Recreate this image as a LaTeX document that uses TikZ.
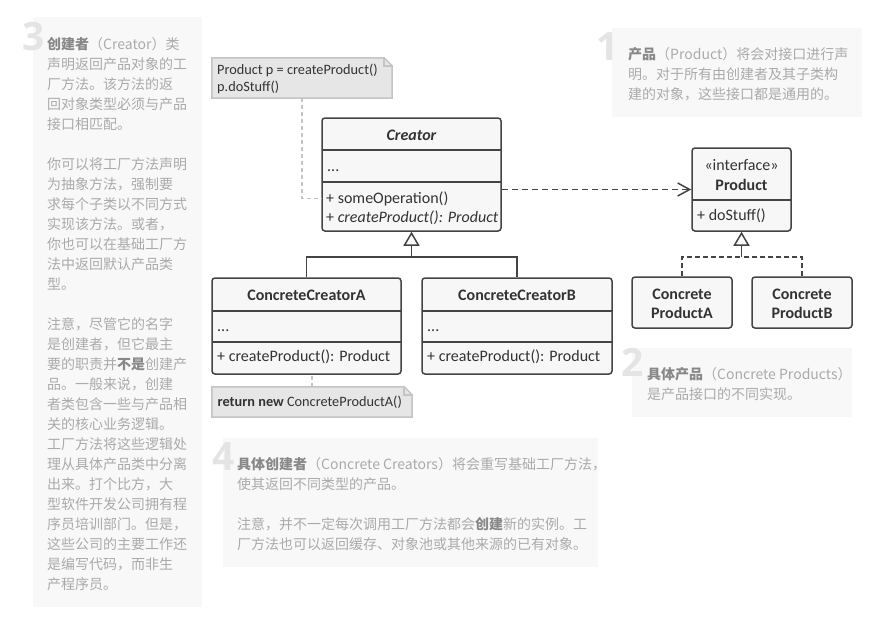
\documentclass[tikz,border=0pt]{standalone}
\usepackage{fontspec}
\setmainfont{Carlito}
\newfontfamily\cjkfont{Noto Sans CJK SC}
\newfontfamily\numfont{Open Sans}
\usetikzlibrary{arrows.meta,calc}
\definecolor{boxline}{HTML}{444444}
\definecolor{boxfill}{HTML}{F7F7F7}
\definecolor{notefill}{HTML}{E6E6E6}
\definecolor{noteline}{HTML}{C4C4C4}
\definecolor{panelbg}{HTML}{F8F8F8}
\definecolor{paneltxt}{HTML}{AAAAAA}
\definecolor{panelbold}{HTML}{888888}
\definecolor{bignum}{HTML}{E4E4E4}
\definecolor{umltxt}{HTML}{333333}
\newcommand\strongcn[1]{{\bfseries\color{panelbold}#1}}
\begin{document}
\begin{tikzpicture}[x=1pt,y=-1pt,
  umlbox/.style={draw=boxline, fill=boxfill, line width=1.5pt, rounded corners=3pt, inner sep=0pt},
  divider/.style={draw=boxline, line width=1.5pt},
  uml/.style={font=\fontsize{16}{19}\selectfont, text=umltxt, inner sep=0pt},
  notetxt/.style={font=\fontsize{14.3}{18}\selectfont, text=umltxt, inner sep=0pt, anchor=base west},
  noteanchor/.style={inner sep=0pt, draw=none},
  noteshape/.style={draw=noteline, fill=notefill, line width=1.5pt},
  panel/.style={fill=panelbg, draw=none},
  paneltext/.style={font=\cjkfont\fontsize{14}{20}\selectfont, text=paneltxt, align=left, inner sep=0pt, anchor=north west},
  bignumber/.style={font=\numfont\bfseries\fontsize{39}{39}\selectfont, text=bignum, inner sep=0pt, anchor=base east},
  conn/.style={draw=boxline, line width=1.5pt},
  inh/.style={conn, -{Triangle[open, length=14pt, width=16pt, line width=1.5pt]}},
  dep/.style={conn, dash pattern=on 6pt off 4pt, -{Straight Barb[length=12pt, width=13pt, line width=1.5pt]}},
  realdash/.style={dash pattern=on 5pt off 3pt},
  notelink/.style={draw=noteline, line width=1.5pt, dash pattern=on 4pt off 3pt}
]
\fill[white] (0,0) rectangle (884,624);
\useasboundingbox (0,0) rectangle (884,624);

% ---------- side panels ----------
\fill[panel] (33,17) rectangle (202,607);
\fill[panel] (612,28) rectangle (862,117);
\fill[panel] (632,348) rectangle (852,417);
\fill[panel] (223,438) rectangle (598,567);

\node[bignumber] (n3) at (45,50) {3};
\node[bignumber] (n1) at (619,60) {1};
\node[bignumber] (n2) at (644,376) {2};
\node[bignumber] (n4) at (235,470) {4};

\node[paneltext] (t3) at (47,37.5) {\strongcn{创建者}（Creator）类\\
声明返回产品对象的工\\
厂方法。该方法的返\\
回对象类型必须与产品\\
接口相匹配。\\[20pt]
你可以将工厂方法声明\\
为抽象方法，强制要\\
求每个子类以不同方式\\
实现该方法。或者，\\
你也可以在基础工厂方\\
法中返回默认产品类\\
型。\\[20pt]
注意，尽管它的名字\\
是创建者，但它最主\\
要的职责并\strongcn{不是}创建产\\
品。一般来说，创建\\
者类包含一些与产品相\\
关的核心业务逻辑。\\
工厂方法将这些逻辑处\\
理从具体产品类中分离\\
出来。打个比方，大\\
型软件开发公司拥有程\\
序员培训部门。但是，\\
这些公司的主要工作还\\
是编写代码，而非生\\
产程序员。};

\node[paneltext] (t1) at (628,47) {\strongcn{产品}（Product）将会对接口进行声\\
明。对于所有由创建者及其子类构\\
建的对象，这些接口都是通用的。};

\node[paneltext] (t2) at (647,367.5) {\strongcn{具体产品}（Concrete Products）\\
是产品接口的不同实现。};

\node[paneltext] (t4) at (237,457) {\strongcn{具体创建者}（Concrete Creators）将会重写基础工厂方法，\\
使其返回不同类型的产品。\\[20pt]
注意，并不一定每次调用工厂方法都会\strongcn{创建}新的实例。工\\
厂方法也可以返回缓存、对象池或其他来源的已有对象。};

% ---------- notes ----------
\node[noteanchor, minimum width=180pt, minimum height=40pt] (note1) at (302,78) {};
\draw[noteshape] (note1.south west) -- (note1.north west) -- ($(note1.north east)+(-8,0)$) -- ($(note1.north east)+(0,8)$) -- (note1.south east) -- cycle;
\draw[noteshape, fill=none] ($(note1.north east)+(-8,0)$) -- ($(note1.north east)+(-8,8)$) -- ($(note1.north east)+(0,8)$);
\node[notetxt] (note1a) at (217,74.3) {Product p = createProduct()};
\node[notetxt] (note1b) at (217,91.7) {p.doStuff()};

\node[noteanchor, minimum width=200pt, minimum height=30pt] (note2) at (312,402) {};
\draw[noteshape] (note2.south west) -- (note2.north west) -- ($(note2.north east)+(-8,0)$) -- ($(note2.north east)+(0,8)$) -- (note2.south east) -- cycle;
\draw[noteshape, fill=none] ($(note2.north east)+(-8,0)$) -- ($(note2.north east)+(-8,8)$) -- ($(note2.north east)+(0,8)$);
\node[notetxt] (note2a) at (217.5,406.7) {\textbf{return new} ConcreteProductA()};

% ---------- Creator ----------
\node[umlbox, minimum width=179pt, minimum height=113pt] (creator) at (411.5,174.5) {};
\draw[divider] (322,150) -- (501,150);
\draw[divider] (322,182) -- (501,182);
\node[uml, anchor=base] (creatorT) at (411.5,140) {\bfseries\itshape Creator};
\node[uml, anchor=base west] (creatorF) at (327,171) {...};
\node[uml, anchor=base west] (cop) at (326,203) {+ someOperation()};
\node[uml, anchor=base west] (ccp) at (326,222) {+ \textit{createProduct(): Product}};

% ---------- ConcreteCreatorA ----------
\node[umlbox, minimum width=189pt, minimum height=96pt] (cca) at (306.5,326) {};
\draw[divider] (212,311) -- (401,311);
\draw[divider] (212,342) -- (401,342);
\node[uml, anchor=base] (ccaT) at (306.5,300) {\bfseries ConcreteCreatorA};
\node[uml, anchor=base west] (ccaF) at (217,331) {...};
\node[uml, anchor=base west] (ccaM) at (217,361) {+ createProduct(): Product};

% ---------- ConcreteCreatorB ----------
\node[umlbox, minimum width=190pt, minimum height=96pt] (ccb) at (517,326) {};
\draw[divider] (422,311) -- (612,311);
\draw[divider] (422,342) -- (612,342);
\node[uml, anchor=base] (ccbT) at (517,300) {\bfseries ConcreteCreatorB};
\node[uml, anchor=base west] (ccbF) at (427,331) {...};
\node[uml, anchor=base west] (ccbM) at (427,361) {+ createProduct(): Product};

% ---------- Product ----------
\node[umlbox, minimum width=99pt, minimum height=83pt] (product) at (741.5,189.5) {};
\draw[divider] (692,200) -- (791,200);
\node[uml, anchor=base] (prodS) at (741.5,170) {«interface»};
\node[uml, anchor=base] (prodT) at (741.5,190) {\bfseries Product};
\node[uml, anchor=base west] (prodM) at (697,220) {+ doStuff()};

% ---------- Concrete products ----------
\node[umlbox, minimum width=100pt, minimum height=51pt] (cpa) at (682,302.5) {};
\node[uml, anchor=base] (cpaT1) at (682,299) {\bfseries Concrete};
\node[uml, anchor=base] (cpaT2) at (682,318) {\bfseries ProductA};
\node[umlbox, minimum width=100pt, minimum height=51pt] (cpb) at (802,302.5) {};
\node[uml, anchor=base] (cpbT1) at (802,299) {\bfseries Concrete};
\node[uml, anchor=base] (cpbT2) at (802,318) {\bfseries ProductB};

% ---------- connectors ----------
\draw[dep] (product.west -| creator.east) -- (product.west);

\coordinate (jc) at (411.5,257);
\draw[inh] (jc) -- (creator.south);
\draw[conn] (cca.north) |- (jc);
\draw[conn] (ccb.north) |- (jc);

\coordinate (jp) at (741.5,257);
\draw[inh] (jp) -- (product.south);
\draw[conn, realdash] (cpa.north) |- (jp);
\draw[conn, realdash] (cpb.north) |- (jp);

\draw[notelink] (note1.south) |- (cop.west -| creator.west);
\draw[notelink] (note2.north) -- (note2.north |- cca.south);
\end{tikzpicture}
\end{document}
